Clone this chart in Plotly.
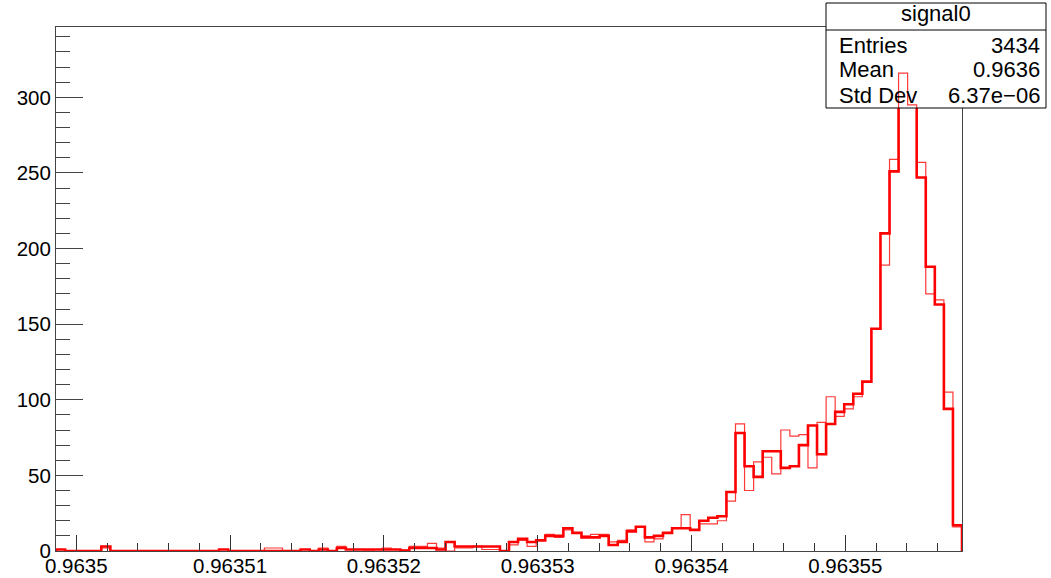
import numpy as np
import plotly.graph_objects as go

# ---- histogram definition -------------------------------------------------
x_min = 0.963498681
x_max = 0.963557589
n_bins = 100

# main histogram "signal0" (thick outline)
signal0_counts = [
    1, 0, 0, 0, 0, 3, 0, 0, 0, 0,
    0, 0, 0, 0, 0, 0, 0, 0, 1, 0,
    0, 0, 0, 0, 0, 0, 0, 1, 0, 1,
    0, 2, 1, 1, 1, 1, 1, 1, 0, 2,
    2, 2, 1, 6, 3, 3, 3, 3, 3, 0,
    6, 8, 6, 7, 10, 10, 15, 12, 9, 9,
    10, 4, 6, 13, 16, 9, 10, 12, 15, 15,
    14, 20, 22, 23, 39, 78, 56, 49, 66, 66,
    55, 56, 70, 83, 64, 84, 92, 97, 104, 112,
    147, 210, 251, 315, 307, 247, 188, 163, 94, 17,
]

# overlaid histogram (thin outline)
overlay_counts = [
    1, 0, 0, 0, 0, 2, 0, 0, 0, 0,
    0, 0, 0, 0, 0, 0, 0, 0, 1, 0,
    0, 0, 0, 2, 2, 0, 0, 1, 0, 2,
    0, 3, 1, 1, 0, 1, 2, 1, 1, 3,
    3, 5, 2, 0, 2, 2, 3, 1, 1, 0,
    4, 7, 3, 7, 11, 9, 14, 12, 10, 11,
    11, 6, 7, 14, 16, 6, 8, 12, 15, 24,
    14, 18, 18, 20, 33, 84, 40, 59, 62, 51,
    80, 76, 77, 55, 85, 102, 89, 94, 102, 112,
    147, 189, 259, 316, 295, 257, 170, 166, 105, 16,
]

x_tick_vals = [0.9635, 0.96351, 0.96352, 0.96353, 0.96354, 0.96355]
x_tick_text = ["0.9635", "0.96351", "0.96352", "0.96353", "0.96354", "0.96355"]
y_tick_vals = [0, 50, 100, 150, 200, 250, 300]

stats_title = "signal0"
stats_labels = ["Entries", "Mean", "Std Dev"]
stats_values = ["3434", "0.9636", "6.37e\u221206"]

# ---- helpers --------------------------------------------------------------
edges = np.linspace(x_min, x_max, n_bins + 1)


def outline(counts):
    """Histogram outline as a step path starting and ending on the baseline."""
    ys = np.concatenate([[0], counts, [counts[-1]], [0]])
    xs = np.concatenate([[edges[0]], edges, [edges[-1]]])
    return xs, ys


y_max = 1.1 * max(signal0_counts)

W, H = 1051, 578
FONT = "Liberation Sans, Arial, Helvetica, sans-serif"
frame_px = dict(left=56, right=962, top=27, bottom=551)
box_px = dict(left=826, right=1046, top=3, bottom=108, sep=30)


def px_x(v):
    return v / W


def px_y(v):
    return 1 - v / H


main_xdom = [px_x(frame_px["left"]), px_x(frame_px["right"])]
main_ydom = [px_y(frame_px["bottom"]), px_y(frame_px["top"])]
box_xdom = [px_x(box_px["left"]), px_x(box_px["right"])]
box_ydom = [px_y(box_px["bottom"]), px_y(box_px["top"])]

fig = go.Figure()

tx, ty = outline(signal0_counts)
fig.add_trace(go.Scatter(
    x=tx, y=ty, mode="lines", name="signal0",
    line=dict(color="#ff0000", width=2.6, shape="hv"),
    xaxis="x", yaxis="y", hoverinfo="skip",
))

# statistics box background (own subplot so it sits between the two outlines)
fig.add_trace(go.Scatter(
    x=[0, 1, 1, 0, 0], y=[0, 0, 1, 1, 0], mode="lines", fill="toself",
    fillcolor="white", line=dict(width=0, color="white"),
    xaxis="x2", yaxis="y2", hoverinfo="skip",
))

ox, oy = outline(overlay_counts)
fig.add_trace(go.Scatter(
    x=ox, y=oy, mode="lines", name="overlay",
    line=dict(color="rgba(255,0,0,0.78)", width=1.2, shape="hv"),
    xaxis="x3", yaxis="y3", hoverinfo="skip",
))

axis_col = "#444444"
tick_font = dict(family=FONT, size=20.5, color="black")

fig.update_layout(
    template="none",
    width=W, height=H,
    margin=dict(l=0, r=0, t=0, b=0, autoexpand=False),
    paper_bgcolor="white", plot_bgcolor="rgba(0,0,0,0)",
    showlegend=False,
    xaxis=dict(
        domain=main_xdom, range=[x_min, x_max], anchor="y", automargin=False,
        showline=True, mirror=True, linecolor=axis_col, linewidth=1,
        showgrid=False, zeroline=False,
        tickmode="array", tickvals=x_tick_vals, ticktext=x_tick_text,
        ticks="inside", ticklen=16, tickwidth=1, tickcolor="#333333",
        tickfont=tick_font, ticklabelstandoff=-4,
        minor=dict(tickmode="linear", tick0=x_tick_vals[0], dtick=2e-6,
                   ticks="inside", ticklen=8, tickwidth=1, tickcolor="#333333",
                   showgrid=False),
    ),
    yaxis=dict(
        domain=main_ydom, range=[0, y_max], anchor="x", automargin=False,
        showline=True, mirror=True, linecolor=axis_col, linewidth=1,
        showgrid=False, zeroline=False,
        tickmode="array", tickvals=y_tick_vals,
        ticks="inside", ticklen=27, tickwidth=1, tickcolor="#444444",
        tickfont=tick_font,
        minor=dict(tickmode="linear", tick0=0, dtick=10,
                   ticks="inside", ticklen=14, tickwidth=1, tickcolor="#444444",
                   showgrid=False),
    ),
    xaxis2=dict(domain=box_xdom, range=[0, 1], anchor="y2", visible=False,
                automargin=False),
    yaxis2=dict(domain=box_ydom, range=[0, 1], anchor="x2", visible=False,
                automargin=False),
    xaxis3=dict(domain=main_xdom, range=[x_min, x_max], anchor="y3",
                visible=False, automargin=False),
    yaxis3=dict(domain=main_ydom, range=[0, y_max], anchor="x3",
                visible=False, automargin=False),
)

# statistics box frame and separator
fig.add_shape(type="rect", xref="paper", yref="paper",
              x0=box_xdom[0], x1=box_xdom[1], y0=box_ydom[0], y1=box_ydom[1],
              line=dict(color="black", width=1), fillcolor="rgba(0,0,0,0)",
              layer="above")
fig.add_shape(type="line", xref="paper", yref="paper",
              x0=box_xdom[0], x1=box_xdom[1],
              y0=px_y(box_px["sep"]), y1=px_y(box_px["sep"]),
              line=dict(color="black", width=1), layer="above")

stats_font = dict(family=FONT, size=22, color="black")
fig.add_annotation(text=stats_title, xref="paper", yref="paper",
                   x=px_x(936), y=px_y(13.5), xanchor="center", yanchor="middle",
                   showarrow=False, font=stats_font)
row_y = [45.5, 70, 95.5]
for label, value, ry in zip(stats_labels, stats_values, row_y):
    fig.add_annotation(text=label, xref="paper", yref="paper",
                       x=px_x(837), y=px_y(ry), xanchor="left", yanchor="middle",
                       showarrow=False, font=stats_font)
    fig.add_annotation(text=value, xref="paper", yref="paper",
                       x=px_x(1042), y=px_y(ry), xanchor="right", yanchor="middle",
                       showarrow=False, font=stats_font)

fig.write_html("out.html")
